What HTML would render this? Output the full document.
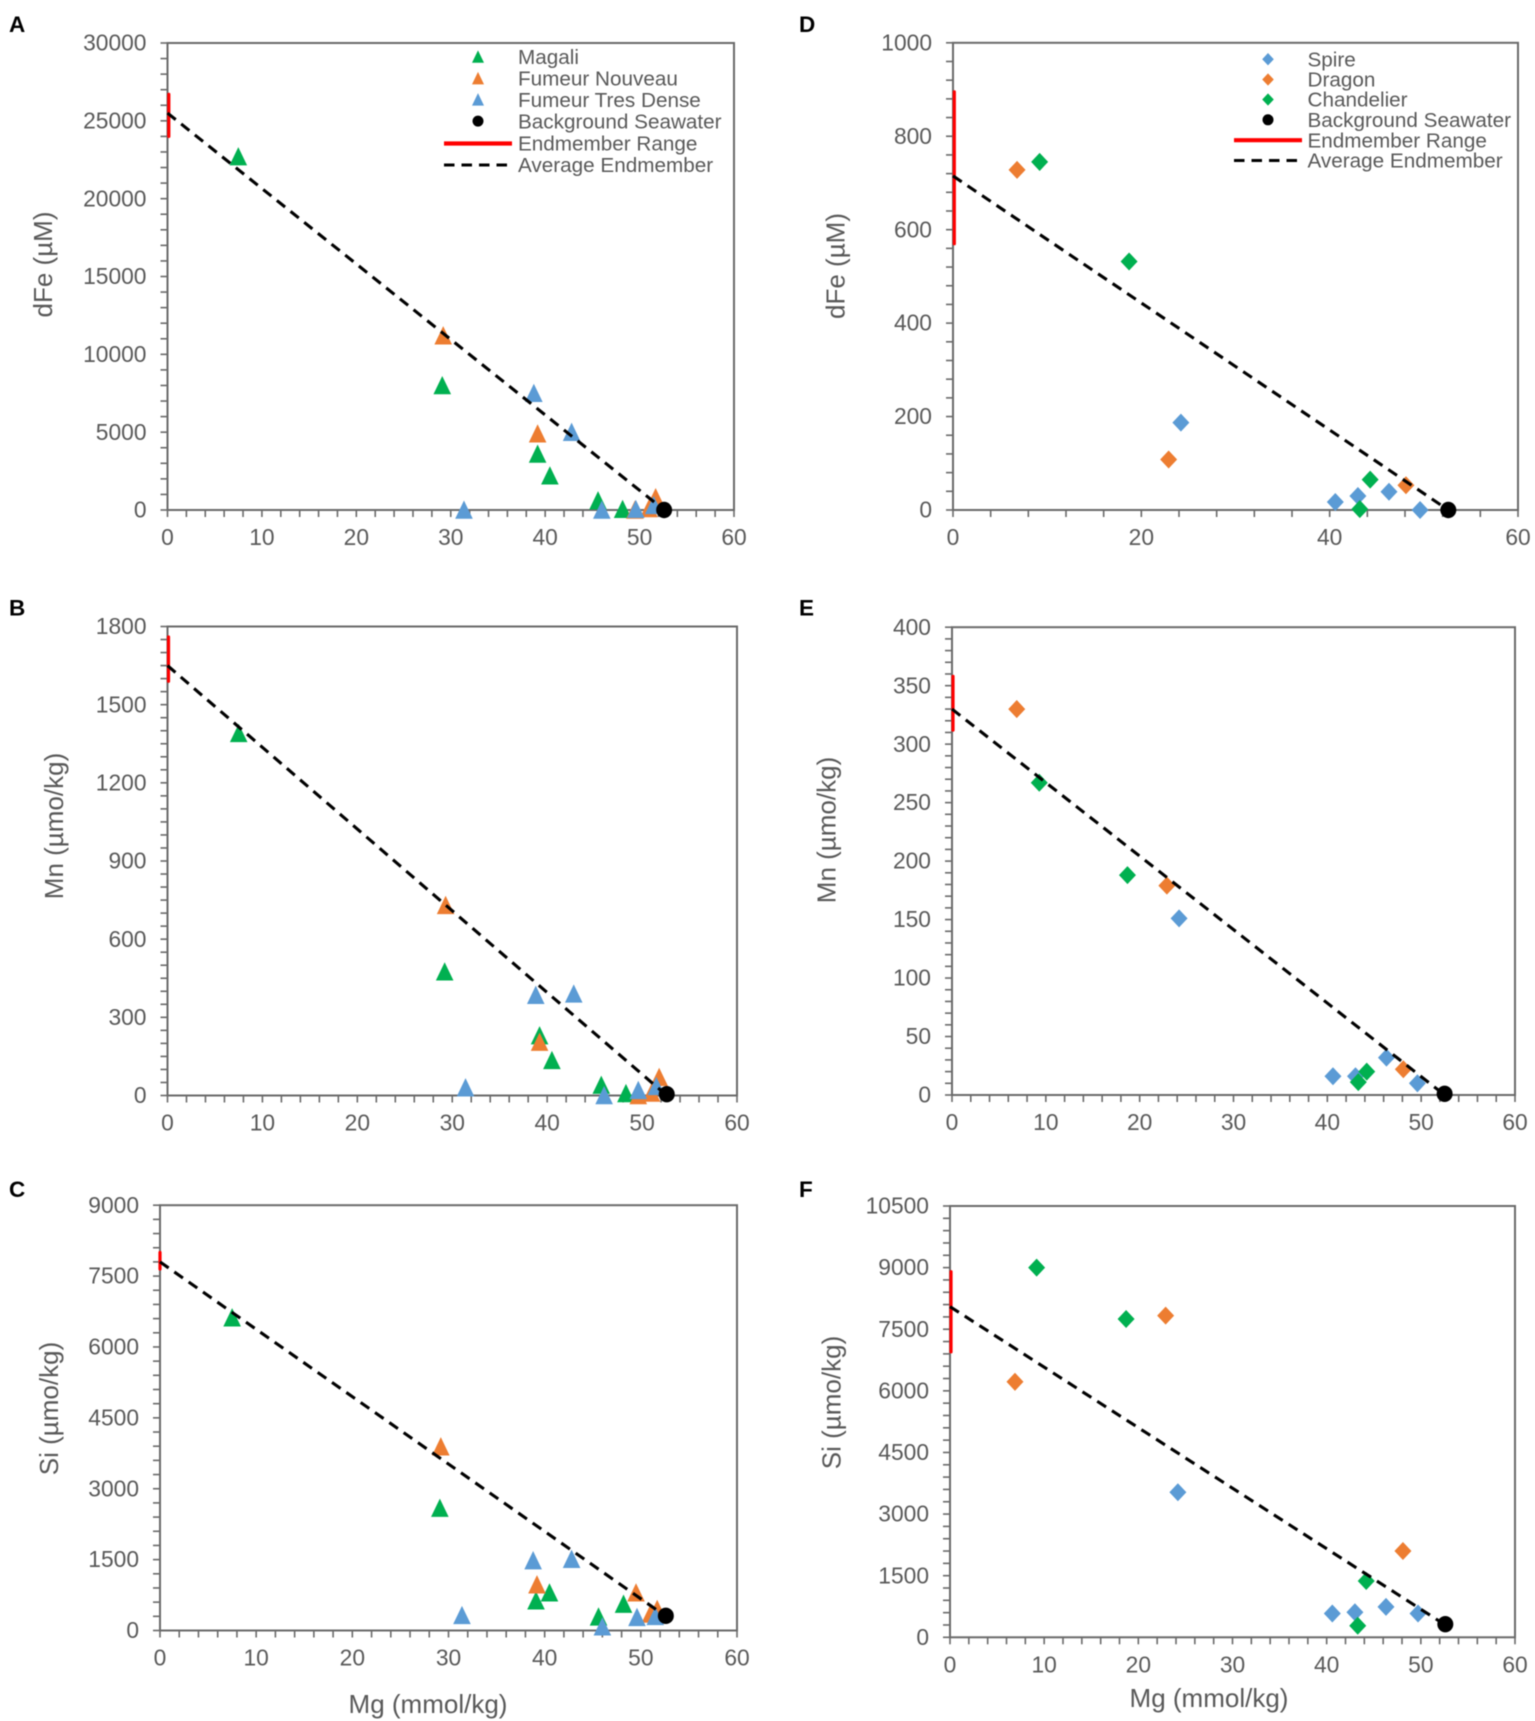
<!DOCTYPE html>
<html lang="en">
<head>
<meta charset="utf-8">
<title>Vent fluid endmember mixing plots</title>
<style>
html,body{margin:0;padding:0;background:#fff}
body{width:1535px;height:1721px;overflow:hidden}
svg{display:block;font-family:"Liberation Sans",Arial,sans-serif;filter:blur(0.4px)}
</style>
</head>
<body>
<svg id="figure" xmlns="http://www.w3.org/2000/svg" width="1535" height="1721" viewBox="0 0 1535 1721"></svg>
<script>
// ---------- shared tick labels ----------
const xTicksTen = [0, 10, 20, 30, 40, 50, 60];
const xTicksTwenty = [0, 20, 40, 60];

// ---------- series names ----------
const leftSeriesNames = ["Magali", "Fumeur Nouveau", "Fumeur Tres Dense"];
const rightSeriesNames = ["Spire", "Dragon", "Chandelier"];

// ---------- Panel A: dFe ----------
const aYTicks = [0, 5000, 10000, 15000, 20000, 25000, 30000];
const aMagali = [[7.5, 22700], [29.1, 8000], [39.2, 3600], [40.5, 2200], [45.6, 600], [48.2, 50]];
const aNouveau = [[29.2, 11200], [39.2, 4900], [49.5, 0], [51, 100], [51.7, 800]];
const aTresDense = [[38.8, 7500], [42.8, 5000], [31.4, 0], [46, 0], [49.6, 50], [51.5, 300]];
const aBackground = [52.6, 0];
const aRange = [24000, 26700];
const aAverage = [25500, 0];

// ---------- Panel B: Mn ----------
const bYTicks = [0, 300, 600, 900, 1200, 1500, 1800];
const bMagali = [[7.5, 1390], [29.2, 475], [39.2, 230], [40.5, 135], [45.7, 40], [48.3, 8]];
const bNouveau = [[29.3, 730], [39.2, 205], [49.6, 0], [51, 10], [51.8, 70]];
const bTresDense = [[38.8, 385], [42.8, 390], [31.4, 30], [46, 0], [49.6, 20], [51.5, 35]];
const bBackground = [52.6, 5];
const bRange = [1590, 1760];
const bAverage = [1650, 0];

// ---------- Panel C: Si ----------
const cYTicks = [0, 1500, 3000, 4500, 6000, 7500, 9000];
const cMagali = [[7.5, 6620], [29.1, 2590], [39.1, 630], [40.5, 800], [45.6, 290], [48.2, 560]];
const cNouveau = [[29.2, 3890], [39.2, 970], [49.5, 800], [51.7, 450], [51, 350]];
const cTresDense = [[38.8, 1480], [42.8, 1510], [31.4, 320], [46, 80], [49.6, 280], [51.5, 300]];
const cBackground = [52.6, 310];
const cRange = [7650, 8000];
const cAverage = [7800, 300];

// ---------- Panel D: dFe ----------
const dYTicks = [0, 200, 400, 600, 800, 1000];
const dSpire = [[24.2, 187], [40.6, 17], [43, 30], [46.3, 39], [49.6, 0]];
const dDragon = [[6.8, 728], [22.9, 108], [48.1, 53]];
const dChandelier = [[9.2, 745], [18.7, 532], [44.3, 65], [43.2, 2]];
const dBackground = [52.6, 0];
const dRange = [570, 895];
const dAverage = [715, 0];

// ---------- Panel E: Mn ----------
const eYTicks = [0, 50, 100, 150, 200, 250, 300, 350, 400];
const eSpire = [[24.2, 151], [40.6, 16], [43, 16], [46.3, 32], [49.6, 10]];
const eDragon = [[6.9, 330], [22.9, 179], [48.1, 22]];
const eChandelier = [[9.3, 267], [18.7, 188], [44.2, 20], [43.3, 11]];
const eBackground = [52.5, 1];
const eRange = [312, 358];
const eAverage = [330, 0];

// ---------- Panel F: Si ----------
const fYTicks = [0, 1500, 3000, 4500, 6000, 7500, 9000, 10500];
const fSpire = [[24.2, 3530], [40.6, 580], [43, 610], [46.3, 740], [49.7, 580]];
const fDragon = [[6.9, 6220], [22.9, 7830], [48.1, 2100]];
const fChandelier = [[9.2, 9000], [18.7, 7750], [44.2, 1370], [43.3, 280]];
const fBackground = [52.6, 320];
const fRange = [6950, 8900];
const fAverage = [8050, 300];

const NS = "http://www.w3.org/2000/svg";
const TEXT = "#595959";
const SERIES_COLORS = { Magali: "#00B050", "Fumeur Nouveau": "#ED7D31", "Fumeur Tres Dense": "#5B9BD5", Spire: "#5B9BD5", Dragon: "#ED7D31", Chandelier: "#00B050" };
const fig = document.getElementById("figure");

function make(parent, tag, attrs, txt) {
  const el = document.createElementNS(NS, tag);
  for (const k in attrs) el.setAttribute(k, attrs[k]);
  if (txt !== undefined) el.textContent = txt;
  parent.appendChild(el);
  return el;
}
function drawMarker(g, shape, cx, cy, size, color, label) {
  let el;
  if (shape === "triangle") {
    const pts = (cx - size) + "," + (cy + size) + " " + (cx + size) + "," + (cy + size) + " " + cx + "," + (cy - size * 1.08);
    el = make(g, "polygon", { points: pts, fill: color });
  } else {
    const pts = (cx - size) + "," + cy + " " + cx + "," + (cy - size * 1.06) + " " + (cx + size) + "," + cy + " " + cx + "," + (cy + size * 1.06);
    el = make(g, "polygon", { points: pts, fill: color });
  }
  
  
}

function drawPanel(p) {
  const g = make(fig, "g", {});
  
  
  const sx = v => p.x0 + (v - 0) / 60 * (p.x1 - p.x0);
  const sy = v => p.y0 - v / p.yMax * (p.y0 - p.yTop);

  const letter = make(g, "text", { x: p.lx, y: p.ly, "font-size": 22.5, "font-weight": "bold", fill: "#000" }, p.letter);
  
  

  const frame = make(g, "rect", { x: p.x0, y: p.yTop, width: p.x1 - p.x0, height: p.y0 - p.yTop, fill: "none", stroke: "#6a6a6a", "stroke-width": 2 });
  
  

  // minor + major y ticks
  for (let i = 0; i <= Math.round(p.yMax / p.yMinor); i++) {
    const v = i * p.yMinor;
    const t = make(g, "line", { x1: p.x0 - 7, x2: p.x0, y1: sy(v), y2: sy(v), stroke: "#6a6a6a", "stroke-width": 1.6 });
    
    
  }
  // minor + major x ticks
  for (let i = 0; i <= Math.round(60 / p.xMinor); i++) {
    const v = i * p.xMinor;
    const t = make(g, "line", { x1: sx(v), x2: sx(v), y1: p.y0, y2: p.y0 + 7, stroke: "#6a6a6a", "stroke-width": 1.6 });
    
    
  }
  p.yTicks.forEach(v => {
    const t = make(g, "text", { x: p.x0 - 21, y: sy(v) + 7.6, "text-anchor": "end", "font-size": 22.8, fill: TEXT }, String(v));
    
    
  });
  p.xTicks.forEach(v => {
    const t = make(g, "text", { x: sx(v), y: p.y0 + 35, "text-anchor": "middle", "font-size": 22.8, fill: TEXT }, String(v));
    
    
  });

  const yt = make(g, "text", { x: 0, y: 0, "text-anchor": "middle", "dominant-baseline": "central", "font-size": 26, fill: TEXT, transform: "translate(" + p.ytx + "," + p.yty + ") rotate(-90)" }, p.yTitle);
  
  
  if (p.xtx) {
    const xt = make(g, "text", { x: p.xtx, y: p.xty, "text-anchor": "middle", "dominant-baseline": "central", "font-size": 26, fill: TEXT }, "Mg (mmol/kg)");
    
    
  }

  // scatter series
  p.series.forEach(s => {
    s.points.forEach(pt => {
      drawMarker(g, p.shape, sx(pt[0]), sy(pt[1]), p.shape === "triangle" ? 8.8 : 8.5, SERIES_COLORS[s.name], "marker-" + s.name.toLowerCase().replace(/ /g, "-"));
    });
  });

  // endmember range
  const rng = make(g, "line", { x1: sx(0) + p.rangeOff, x2: sx(0) + p.rangeOff, y1: sy(p.range[0]), y2: sy(p.range[1]), stroke: "#FF0000", "stroke-width": 3.2, "stroke-linecap": "round" });
  
  

  // average endmember mixing line
  const avg = make(g, "line", { x1: sx(0), y1: sy(p.average[0]), x2: sx(p.background[0]), y2: sy(p.average[1]), stroke: "#000", "stroke-width": 3.1, "stroke-dasharray": "10.5 7" });
  
  

  // background seawater
  const bg = make(g, "ellipse", { cx: sx(p.background[0]), cy: sy(p.background[1]), rx: 8, ry: 8.2, fill: "#000" });
  
  

  if (p.legend) drawLegend(g, p);
}

function drawLegend(g, p) {
  const L = p.legend;
  const lg = make(g, "g", {});
  
  
  const labels = p.series.map(s => s.name).concat(["Background Seawater", "Endmember Range", "Average Endmember"]);
  labels.forEach((lab, i) => {
    const y = L.rows[i];
    const t = make(lg, "text", { x: L.textX, y: y + 7.2, "font-size": 20.7, fill: TEXT }, lab);
    
    
    if (i < 3) {
      drawMarker(lg, p.shape, L.markerX, y, p.shape === "triangle" ? 6 : 5.8, SERIES_COLORS[lab], "legend-marker");
    } else if (i === 3) {
      const c = make(lg, "circle", { cx: L.markerX, cy: y, r: 5.5, fill: "#000" });
      
      
    } else if (i === 4) {
      const r = make(lg, "line", { x1: L.lineX0, x2: L.lineX1, y1: y, y2: y, stroke: "#FF0000", "stroke-width": 4.2 });
      
      
    } else {
      const d = make(lg, "line", { x1: L.lineX0, x2: L.lineX1, y1: y, y2: y, stroke: "#000", "stroke-width": 3, "stroke-dasharray": "10.5 7" });
      
      
    }
  });
}

const panelConfigs = [
  { letter: "A", lx: 9, ly: 32, x0: 167.5, x1: 734, yTop: 43, y0: 510, yMax: 30000, yMinor: 1000, xMinor: 2, yTicks: aYTicks, xTicks: xTicksTen, yTitle: "dFe (µM)", ytx: 43, yty: 264.5, shape: "triangle", rangeOff: 1.3,
    series: [{ name: leftSeriesNames[0], points: aMagali }, { name: leftSeriesNames[1], points: aNouveau }, { name: leftSeriesNames[2], points: aTresDense }],
    background: aBackground, range: aRange, average: aAverage,
    legend: { markerX: 478, textX: 518, lineX0: 444, lineX1: 512, rows: [56.8, 78.4, 99.6, 121.1, 143.5, 165] } },
  { letter: "B", lx: 9, ly: 615.5, x0: 167.5, x1: 737, yTop: 626.5, y0: 1095.5, yMax: 1800, yMinor: 50, xMinor: 2, yTicks: bYTicks, xTicks: xTicksTen, yTitle: "Mn (µmo/kg)", ytx: 54, yty: 826, shape: "triangle", rangeOff: 1,
    series: [{ name: leftSeriesNames[0], points: bMagali }, { name: leftSeriesNames[1], points: bNouveau }, { name: leftSeriesNames[2], points: bTresDense }],
    background: bBackground, range: bRange, average: bAverage },
  { letter: "C", lx: 9, ly: 1197, x0: 160, x1: 737, yTop: 1205.2, y0: 1630.5, yMax: 9000, yMinor: 300, xMinor: 2, yTicks: cYTicks, xTicks: xTicksTen, yTitle: "Si (µmo/kg)", ytx: 49, yty: 1408.5, xtx: 428, xty: 1704, shape: "triangle", rangeOff: 0,
    series: [{ name: leftSeriesNames[0], points: cMagali }, { name: leftSeriesNames[1], points: cNouveau }, { name: leftSeriesNames[2], points: cTresDense }],
    background: cBackground, range: cRange, average: cAverage },
  { letter: "D", lx: 799, ly: 32, x0: 953, x1: 1518, yTop: 42.8, y0: 510, yMax: 1000, yMinor: 40, xMinor: 4, yTicks: dYTicks, xTicks: xTicksTwenty, yTitle: "dFe (µM)", ytx: 835.5, yty: 266, shape: "diamond", rangeOff: 1.3,
    series: [{ name: rightSeriesNames[0], points: dSpire }, { name: rightSeriesNames[1], points: dDragon }, { name: rightSeriesNames[2], points: dChandelier }],
    background: dBackground, range: dRange, average: dAverage,
    legend: { markerX: 1268, textX: 1307.5, lineX0: 1234, lineX1: 1302, rows: [59.2, 79.5, 99.5, 119.8, 140.2, 160.5] } },
  { letter: "E", lx: 799, ly: 615.5, x0: 952, x1: 1515, yTop: 627.2, y0: 1095, yMax: 400, yMinor: 10, xMinor: 2, yTicks: eYTicks, xTicks: xTicksTen, yTitle: "Mn (µmo/kg)", ytx: 826.5, yty: 830, shape: "diamond", rangeOff: 1,
    series: [{ name: rightSeriesNames[0], points: eSpire }, { name: rightSeriesNames[1], points: eDragon }, { name: rightSeriesNames[2], points: eChandelier }],
    background: eBackground, range: eRange, average: eAverage },
  { letter: "F", lx: 799, ly: 1197, x0: 950, x1: 1515, yTop: 1206, y0: 1637.3, yMax: 10500, yMinor: 300, xMinor: 2, yTicks: fYTicks, xTicks: xTicksTen, yTitle: "Si (µmo/kg)", ytx: 831.5, yty: 1402.5, xtx: 1209, xty: 1698, shape: "diamond", rangeOff: 1,
    series: [{ name: rightSeriesNames[0], points: fSpire }, { name: rightSeriesNames[1], points: fDragon }, { name: rightSeriesNames[2], points: fChandelier }],
    background: fBackground, range: fRange, average: fAverage }
];
panelConfigs.forEach(drawPanel);
</script>
</body>
</html>
